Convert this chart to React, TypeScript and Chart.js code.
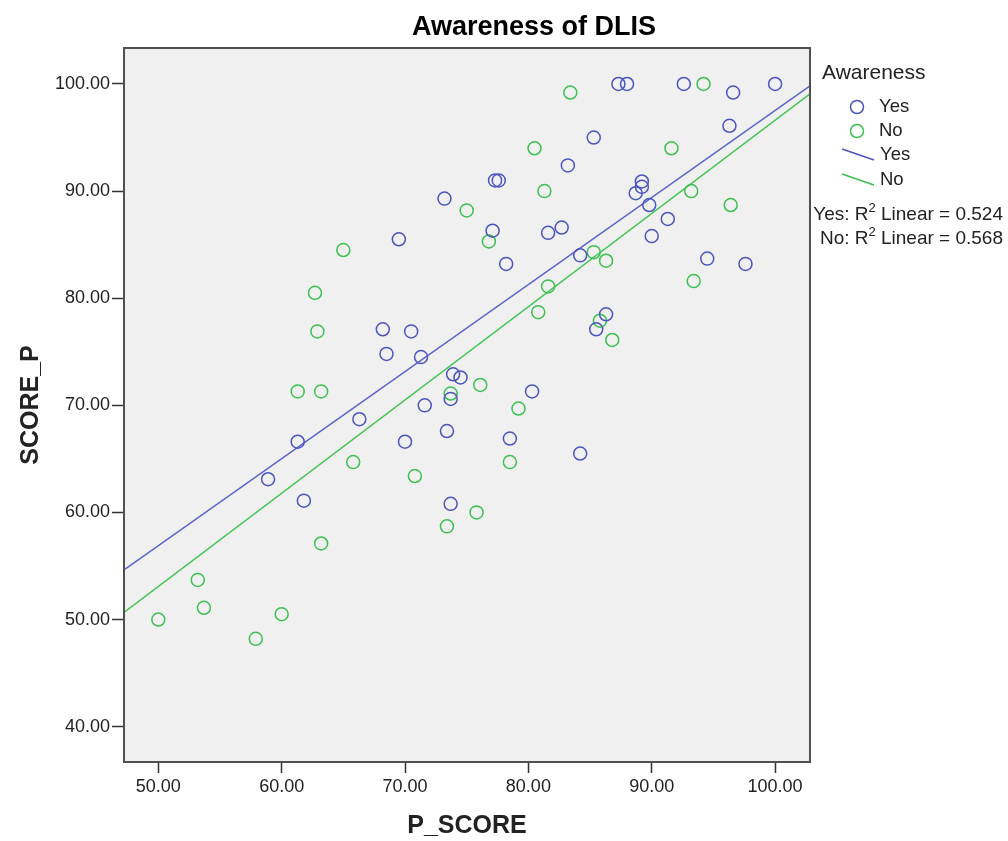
import React, { useEffect, useRef } from "react";
import { Chart, registerables } from "chart.js";

Chart.register(...registerables);

// Awareness = Yes
const yesX = [73.2, 69.5, 87.3, 88.0, 92.6, 96.6, 100.0, 85.3, 96.3, 83.2, 77.3, 77.6, 89.2, 89.2, 88.7, 89.8, 91.3, 77.1, 81.6, 82.7, 90.0, 78.2, 84.2, 94.5, 97.6, 68.2, 70.5, 68.5, 71.3, 73.9, 74.5, 73.7, 71.6, 66.3, 61.3, 70.0, 73.4, 58.9, 61.8, 73.7, 86.3, 85.5, 80.3, 78.5, 84.2];
const yesY = [89.3, 85.5, 100.0, 100.0, 100.0, 99.2, 100.0, 95.0, 96.1, 92.4, 91.0, 91.0, 90.9, 90.4, 89.8, 88.7, 87.4, 86.3, 86.1, 86.6, 85.8, 83.2, 84.0, 83.7, 83.2, 77.1, 76.9, 74.8, 74.5, 72.9, 72.6, 70.6, 70.0, 68.7, 66.6, 66.6, 67.6, 63.1, 61.1, 60.8, 78.5, 77.1, 71.3, 66.9, 65.5];

// Awareness = No
const noX = [75.0, 65.0, 62.7, 83.4, 94.2, 80.5, 91.6, 81.3, 93.2, 96.4, 76.8, 85.3, 86.3, 93.4, 81.6, 62.9, 61.3, 63.2, 73.7, 76.1, 65.8, 70.8, 73.4, 75.8, 80.8, 85.8, 86.8, 79.2, 78.5, 63.2, 53.2, 53.7, 50.0, 60.0, 57.9];
const noY = [88.2, 84.5, 80.5, 99.2, 100.0, 94.0, 94.0, 90.0, 90.0, 88.7, 85.3, 84.3, 83.5, 81.6, 81.1, 76.9, 71.3, 71.3, 71.1, 71.9, 64.7, 63.4, 58.7, 60.0, 78.7, 77.9, 76.1, 69.7, 64.7, 57.1, 53.7, 51.1, 50.0, 50.5, 48.2];

// Fit line end points
const yesFitX = [47.22, 102.83];
const yesFitY = [54.63, 99.83];
const noFitX = [47.22, 102.83];
const noFitY = [50.67, 99.08];

const xTicks = [50, 60, 70, 80, 90, 100];
const yTicks = [40, 50, 60, 70, 80, 90, 100];

const r2Yes = "0.524";
const r2No = "0.568";

const BLUE = "#4c54be";
const GREEN = "#3cc050";
const FONT = "'Liberation Sans', Arial, sans-serif";

const toPts = (xs: number[], ys: number[]) => xs.map((x, i) => ({ x, y: ys[i] }));

const framePlugin = {
  id: "frame",
  beforeDraw(chart: any) {
    const { ctx, chartArea: a } = chart;
    ctx.save();
    ctx.fillStyle = "#f0f0f0";
    ctx.fillRect(a.left, a.top, a.right - a.left, a.bottom - a.top);
    ctx.restore();
  },
  afterDraw(chart: any) {
    const { ctx, chartArea: a } = chart;
    ctx.save();

    // Title
    ctx.fillStyle = "#000";
    ctx.font = `bold 27px ${FONT}`;
    ctx.textAlign = "center";
    ctx.textBaseline = "alphabetic";
    ctx.fillText("Awareness of DLIS", 534, 35);

    // R2 texts (drawn before frame, frame overlaps like the reference)
    const drawR2 = (prefix: string, val: string, rightX: number, y: number) => {
      ctx.font = `19px ${FONT}`;
      const p1 = prefix + "R";
      const p3 = " Linear = " + val;
      const w1 = ctx.measureText(p1).width;
      const w3 = ctx.measureText(p3).width;
      ctx.font = `13px ${FONT}`;
      const w2 = ctx.measureText("2").width;
      let x = rightX - (w1 + w2 + w3);
      ctx.textAlign = "left";
      ctx.textBaseline = "alphabetic";
      ctx.font = `19px ${FONT}`;
      ctx.fillText(p1, x, y);
      x += w1;
      ctx.font = `13px ${FONT}`;
      ctx.fillText("2", x, y - 8);
      x += w2;
      ctx.font = `19px ${FONT}`;
      ctx.fillText(p3, x, y);
    };
    ctx.fillStyle = "#222";
    drawR2("Yes: ", r2Yes, 1003, 220);
    drawR2("No: ", r2No, 1003, 244);

    ctx.strokeStyle = "#505050";
    ctx.lineWidth = 2;
    ctx.strokeRect(a.left, a.top, a.right - a.left, a.bottom - a.top);

    // Legend
    ctx.textAlign = "left";
    ctx.textBaseline = "middle";
    ctx.fillStyle = "#222";
    ctx.font = `21px ${FONT}`;
    ctx.fillText("Awareness", 822, 73);
    ctx.font = `18.5px ${FONT}`;
    const rows = [
      { y: 107, c: BLUE, t: "Yes", type: "pt" },
      { y: 131, c: GREEN, t: "No", type: "pt" },
      { y: 155, c: BLUE, t: "Yes", type: "ln" },
      { y: 180, c: GREEN, t: "No", type: "ln" },
    ];
    rows.forEach((r) => {
      ctx.strokeStyle = r.c;
      ctx.lineWidth = 1.5;
      if (r.type === "pt") {
        ctx.beginPath();
        ctx.arc(857, r.y, 6.5, 0, Math.PI * 2);
        ctx.stroke();
        ctx.fillStyle = "#222";
        ctx.fillText(r.t, 879, r.y);
      } else {
        ctx.beginPath();
        ctx.moveTo(842, r.y - 6);
        ctx.lineTo(874, r.y + 5);
        ctx.stroke();
        ctx.fillStyle = "#222";
        ctx.fillText(r.t, 880, r.y);
      }
    });
    ctx.restore();
  },
};

export default function App() {
  const ref = useRef<HTMLCanvasElement | null>(null);
  useEffect(() => {
    if (!ref.current) return;
    const chart = new Chart(ref.current, {
      type: "scatter",
      data: {
        datasets: [
          {
            label: "Yes",
            data: toPts(yesX, yesY),
            pointStyle: "circle",
            pointRadius: 6.5,
            pointBorderWidth: 1.5,
            borderColor: BLUE,
            backgroundColor: "rgba(0,0,0,0)",
            pointHoverRadius: 6.5,
          },
          {
            label: "No",
            data: toPts(noX, noY),
            pointStyle: "circle",
            pointRadius: 6.5,
            pointBorderWidth: 1.5,
            borderColor: GREEN,
            backgroundColor: "rgba(0,0,0,0)",
            pointHoverRadius: 6.5,
          },
          {
            label: "Yes fit",
            data: toPts(yesFitX, yesFitY),
            showLine: true,
            pointRadius: 0,
            borderColor: "#5a62cc",
            borderWidth: 1.5,
            backgroundColor: "rgba(0,0,0,0)",
          } as any,
          {
            label: "No fit",
            data: toPts(noFitX, noFitY),
            showLine: true,
            pointRadius: 0,
            borderColor: "#44c454",
            borderWidth: 1.5,
            backgroundColor: "rgba(0,0,0,0)",
          } as any,
        ],
      },
      options: {
        responsive: false,
        animation: false,
        events: [],
        layout: { padding: { top: 48, right: 198, left: 0, bottom: 0 } },
        plugins: {
          legend: { display: false },
          title: { display: false },
          tooltip: { enabled: false },
        },
        scales: {
          x: {
            type: "linear",
            min: 47.22,
            max: 102.83,
            afterBuildTicks: (s: any) => {
              s.ticks = xTicks.map((v) => ({ value: v }));
            },
            afterFit: (s: any) => {
              s.height = 79;
            },
            border: { display: false },
            grid: {
              drawOnChartArea: false,
              drawTicks: true,
              tickLength: 11,
              tickWidth: 1.5,
              tickColor: "#333",
            },
            ticks: {
              color: "#222",
              font: { family: FONT, size: 18 },
              padding: 3,
              maxRotation: 0,
              autoSkip: false,
              callback: (v: any) => Number(v).toFixed(2),
            },
            title: {
              display: true,
              text: "P_SCORE",
              color: "#222",
              font: { family: FONT, size: 25, weight: "bold" },
              padding: { top: 0, bottom: 0 },
            },
          },
          y: {
            type: "linear",
            min: 36.7,
            max: 103.36,
            afterBuildTicks: (s: any) => {
              s.ticks = yTicks.map((v) => ({ value: v }));
            },
            afterFit: (s: any) => {
              s.width = 124;
            },
            border: { display: false },
            grid: {
              drawOnChartArea: false,
              drawTicks: true,
              tickLength: 12,
              tickWidth: 1.5,
              tickColor: "#333",
            },
            ticks: {
              color: "#222",
              font: { family: FONT, size: 18 },
              padding: 2,
              autoSkip: false,
              callback: (v: any) => Number(v).toFixed(2),
            },
            title: {
              display: true,
              text: "SCORE_P",
              color: "#222",
              font: { family: FONT, size: 25, weight: "bold" },
              padding: { top: 16, bottom: 0 },
            },
          },
        },
      },
      plugins: [framePlugin],
    });
    return () => chart.destroy();
  }, []);
  return (
    <div style={{ position: "fixed", left: 0, top: 0, width: 1008, height: 841, background: "#fff" }}>
      <canvas ref={ref} width={1008} height={841} style={{ width: 1008, height: 841, display: "block" }} />
    </div>
  );
}
